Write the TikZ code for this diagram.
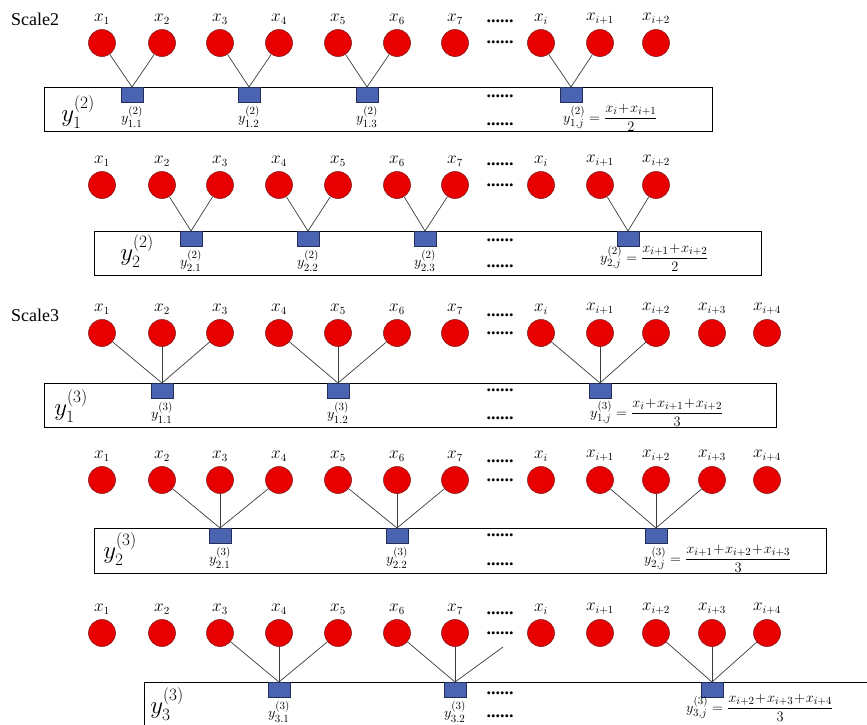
\documentclass[tikz,border=0pt]{standalone}
\usepackage{amsmath}
\usepackage{fontspec}
\setmainfont{Liberation Serif}
\usetikzlibrary{positioning}

\definecolor{ballred}{RGB}{232,0,0}
\definecolor{ballrim}{RGB}{140,30,30}
\definecolor{sqblue}{RGB}{74,100,178}
\definecolor{sqrim}{RGB}{35,45,90}
\definecolor{linkgray}{RGB}{60,60,60}

\newcommand{\pl}{\mkern1mu{+}\mkern1mu}

\tikzset{
  ball/.style={circle, fill=ballred, draw=ballrim, line width=0.6pt,
               minimum size=27pt, inner sep=0pt},
  xname/.style={font=\fontsize{16}{16}\selectfont, inner sep=0pt, label distance=5pt},
  sq/.style={rectangle, fill=sqblue, draw=sqrim, line width=0.5pt,
             minimum width=22pt, minimum height=15pt, inner sep=0pt, anchor=north},
  link/.style={draw=linkgray, line width=0.7pt},
  band/.style={draw=black, line width=0.8pt},
  bigy/.style={font=\fontsize{24}{24}\selectfont, inner sep=0pt},
  suby/.style={font=\fontsize{15}{15}\selectfont, inner sep=0pt},
  formula/.style={font=\fontsize{15}{15}\selectfont, inner sep=0pt, anchor=west},
  gap/.style={font=\fontsize{18}{18}\selectfont\bfseries, inner sep=0pt},
  scalename/.style={font=\fontsize{18}{18}\selectfont, inner sep=0pt, anchor=west}
}

\begin{document}
\begin{tikzpicture}[x=1pt, y=-1pt]

  \clip (0,0) rectangle (867,724);

  % ---------------- Scale2, first shift
  \node[scalename] (sc2) at (11,19) {Scale2};

  % the inputs
  \foreach \n/\px/\lab in {1/102/x_1, 2/162/x_2, 3/220/x_3, 4/279/x_4, 5/338/x_5,
                           6/397/x_6, 7/455/x_7, i/541/x_i, i1/600/x_{i+1}, i2/656/x_{i+2}}
    \node[ball, label={[xname]above:$\lab$}] (a\n) at (\px,43) {};
  \node[gap] (adots1) at (500,21) {......};
  \node[gap] (adots2) at (500,42) {......};

  % the band of averages
  \draw[band] (44,87) rectangle (712,131);
  \node[bigy] (ay) at (78,112) {$y^{(2)}_1$};
  \node[gap] (adots3) at (500,96) {......};
  \node[gap] (adots4) at (500,124) {......};

  \node[sq] (as1) at (132,87) {};
  \node[sq] (as2) at (249,87) {};
  \node[sq] (as3) at (367,87) {};
  \node[sq] (asj) at (571,87) {};
  \node[suby, below=4pt of as1] (al1) {$y^{(2)}_{1.1}$};
  \node[suby, below=4pt of as2] (al2) {$y^{(2)}_{1.2}$};
  \node[suby, below=4pt of as3] (al3) {$y^{(2)}_{1.3}$};
  \node[formula] (alj) at (563,118) {$y^{(2)}_{1,j}=\dfrac{x_i\pl x_{i+1}}{2}$};

  \draw[link] (a1) -- (as1.north);
  \draw[link] (a2) -- (as1.north);
  \draw[link] (a3) -- (as2.north);
  \draw[link] (a4) -- (as2.north);
  \draw[link] (a5) -- (as3.north);
  \draw[link] (a6) -- (as3.north);
  \draw[link] (ai) -- (asj.north);
  \draw[link] (ai1) -- (asj.north);

  % ---------------- Scale2, second shift
  \foreach \n/\px/\lab in {1/102/x_1, 2/162/x_2, 3/220/x_3, 4/279/x_4, 5/338/x_5,
                           6/397/x_6, 7/455/x_7, i/541/x_i, i1/600/x_{i+1}, i2/656/x_{i+2}}
    \node[ball, label={[xname]above:$\lab$}] (b\n) at (\px,185) {};
  \node[gap] (bdots1) at (500,164) {......};
  \node[gap] (bdots2) at (500,185) {......};

  \draw[band] (94,231) rectangle (761,275);
  \node[bigy] (by) at (137,251) {$y^{(2)}_2$};
  \node[gap] (bdots3) at (500,240) {......};
  \node[gap] (bdots4) at (500,266) {......};

  \node[sq] (bs1) at (191,231) {};
  \node[sq] (bs2) at (308,231) {};
  \node[sq] (bs3) at (425,231) {};
  \node[sq] (bsj) at (628,231) {};
  \node[suby, below=4pt of bs1] (bl1) {$y^{(2)}_{2.1}$};
  \node[suby, below=4pt of bs2] (bl2) {$y^{(2)}_{2.2}$};
  \node[suby, below=4pt of bs3] (bl3) {$y^{(2)}_{2.3}$};
  \node[formula] (blj) at (600,258) {$y^{(2)}_{2,j}=\dfrac{x_{i+1}\pl x_{i+2}}{2}$};

  \draw[link] (b2) -- (bs1.north);
  \draw[link] (b3) -- (bs1.north);
  \draw[link] (b4) -- (bs2.north);
  \draw[link] (b5) -- (bs2.north);
  \draw[link] (b6) -- (bs3.north);
  \draw[link] (b7) -- (bs3.north);
  \draw[link] (bi1) -- (bsj.north);
  \draw[link] (bi2) -- (bsj.north);

  % ---------------- Scale3, first shift
  \node[scalename] (sc3) at (11,315) {Scale3};

  \foreach \n/\px/\lab in {1/102/x_1, 2/162/x_2, 3/220/x_3, 4/279/x_4, 5/338/x_5,
                           6/397/x_6, 7/455/x_7, i/541/x_i, i1/600/x_{i+1}, i2/656/x_{i+2},
                           i3/712/x_{i+3}, i4/767/x_{i+4}}
    \node[ball, label={[xname]above:$\lab$}] (c\n) at (\px,333) {};
  \node[gap] (cdots1) at (500,315) {......};
  \node[gap] (cdots2) at (500,333) {......};

  \draw[band] (44,383) rectangle (776,427);
  \node[bigy] (cy) at (71,406) {$y^{(3)}_1$};
  \node[gap] (cdots3) at (500,390) {......};
  \node[gap] (cdots4) at (500,418) {......};

  \node[sq] (cs1) at (162,383) {};
  \node[sq] (cs2) at (338,383) {};
  \node[sq] (csj) at (600,383) {};
  \node[suby, below=4pt of cs1] (cl1) {$y^{(3)}_{1.1}$};
  \node[suby, below=4pt of cs2] (cl2) {$y^{(3)}_{1.2}$};
  \node[formula] (clj) at (590,413) {$y^{(3)}_{1,j}=\dfrac{x_i\pl x_{i+1}\pl x_{i+2}}{3}$};

  \draw[link] (c1) -- (cs1.north);
  \draw[link] (c2) -- (cs1.north);
  \draw[link] (c3) -- (cs1.north);
  \draw[link] (c4) -- (cs2.north);
  \draw[link] (c5) -- (cs2.north);
  \draw[link] (c6) -- (cs2.north);
  \draw[link] (ci) -- (csj.north);
  \draw[link] (ci1) -- (csj.north);
  \draw[link] (ci2) -- (csj.north);

  % ---------------- Scale3, second shift
  \foreach \n/\px/\lab in {1/102/x_1, 2/162/x_2, 3/220/x_3, 4/279/x_4, 5/338/x_5,
                           6/397/x_6, 7/455/x_7, i/541/x_i, i1/600/x_{i+1}, i2/656/x_{i+2},
                           i3/712/x_{i+3}, i4/767/x_{i+4}}
    \node[ball, label={[xname]above:$\lab$}] (d\n) at (\px,480) {};
  \node[gap] (ddots1) at (500,461) {......};
  \node[gap] (ddots2) at (500,480) {......};

  \draw[band] (94,528) rectangle (826,573);
  \node[bigy] (dy) at (120,549) {$y^{(3)}_2$};
  \node[gap] (ddots3) at (500,535) {......};
  \node[gap] (ddots4) at (500,564) {......};

  \node[sq] (ds1) at (220,528) {};
  \node[sq] (ds2) at (397,528) {};
  \node[sq] (dsj) at (656,528) {};
  \node[suby, below=4pt of ds1] (dl1) {$y^{(3)}_{2.1}$};
  \node[suby, below=4pt of ds2] (dl2) {$y^{(3)}_{2.2}$};
  \node[formula] (dlj) at (644,559) {$y^{(3)}_{2,j}=\dfrac{x_{i+1}\pl x_{i+2}\pl x_{i+3}}{3}$};

  \draw[link] (d2) -- (ds1.north);
  \draw[link] (d3) -- (ds1.north);
  \draw[link] (d4) -- (ds1.north);
  \draw[link] (d5) -- (ds2.north);
  \draw[link] (d6) -- (ds2.north);
  \draw[link] (d7) -- (ds2.north);
  \draw[link] (di1) -- (dsj.north);
  \draw[link] (di2) -- (dsj.north);
  \draw[link] (di3) -- (dsj.north);

  % ---------------- Scale3, third shift
  \foreach \n/\px/\lab in {1/102/x_1, 2/162/x_2, 3/220/x_3, 4/279/x_4, 5/338/x_5,
                           6/397/x_6, 7/455/x_7, i/541/x_i, i1/600/x_{i+1}, i2/656/x_{i+2},
                           i3/712/x_{i+3}, i4/767/x_{i+4}}
    \node[ball, label={[xname]above:$\lab$}] (e\n) at (\px,633) {};
  \node[gap] (edots1) at (500,613) {......};
  \node[gap] (edots2) at (500,633) {......};

  \draw[band] (144,682) rectangle (880,740);
  \node[bigy] (ey) at (167,704) {$y^{(3)}_3$};
  \node[gap] (edots3) at (500,693) {......};
  \node[gap] (edots4) at (500,716) {......};

  \node[sq] (es1) at (279,682) {};
  \node[sq] (es2) at (455,682) {};
  \node[sq] (esj) at (712,682) {};
  \node[suby, below=4pt of es1] (el1) {$y^{(3)}_{3.1}$};
  \node[suby, below=4pt of es2] (el2) {$y^{(3)}_{3.2}$};
  \node[formula] (elj) at (686,708) {$y^{(3)}_{3,j}=\dfrac{x_{i+2}\pl x_{i+3}\pl x_{i+4}}{3}$};

  % the third link of es2 runs towards an input hidden by the dots
  \coordinate (ehid) at (503,647);

  \draw[link] (e3) -- (es1.north);
  \draw[link] (e4) -- (es1.north);
  \draw[link] (e5) -- (es1.north);
  \draw[link] (e6) -- (es2.north);
  \draw[link] (e7) -- (es2.north);
  \draw[link] (ehid) -- (es2.north);
  \draw[link] (ei2) -- (esj.north);
  \draw[link] (ei3) -- (esj.north);
  \draw[link] (ei4) -- (esj.north);

\end{tikzpicture}
\end{document}
